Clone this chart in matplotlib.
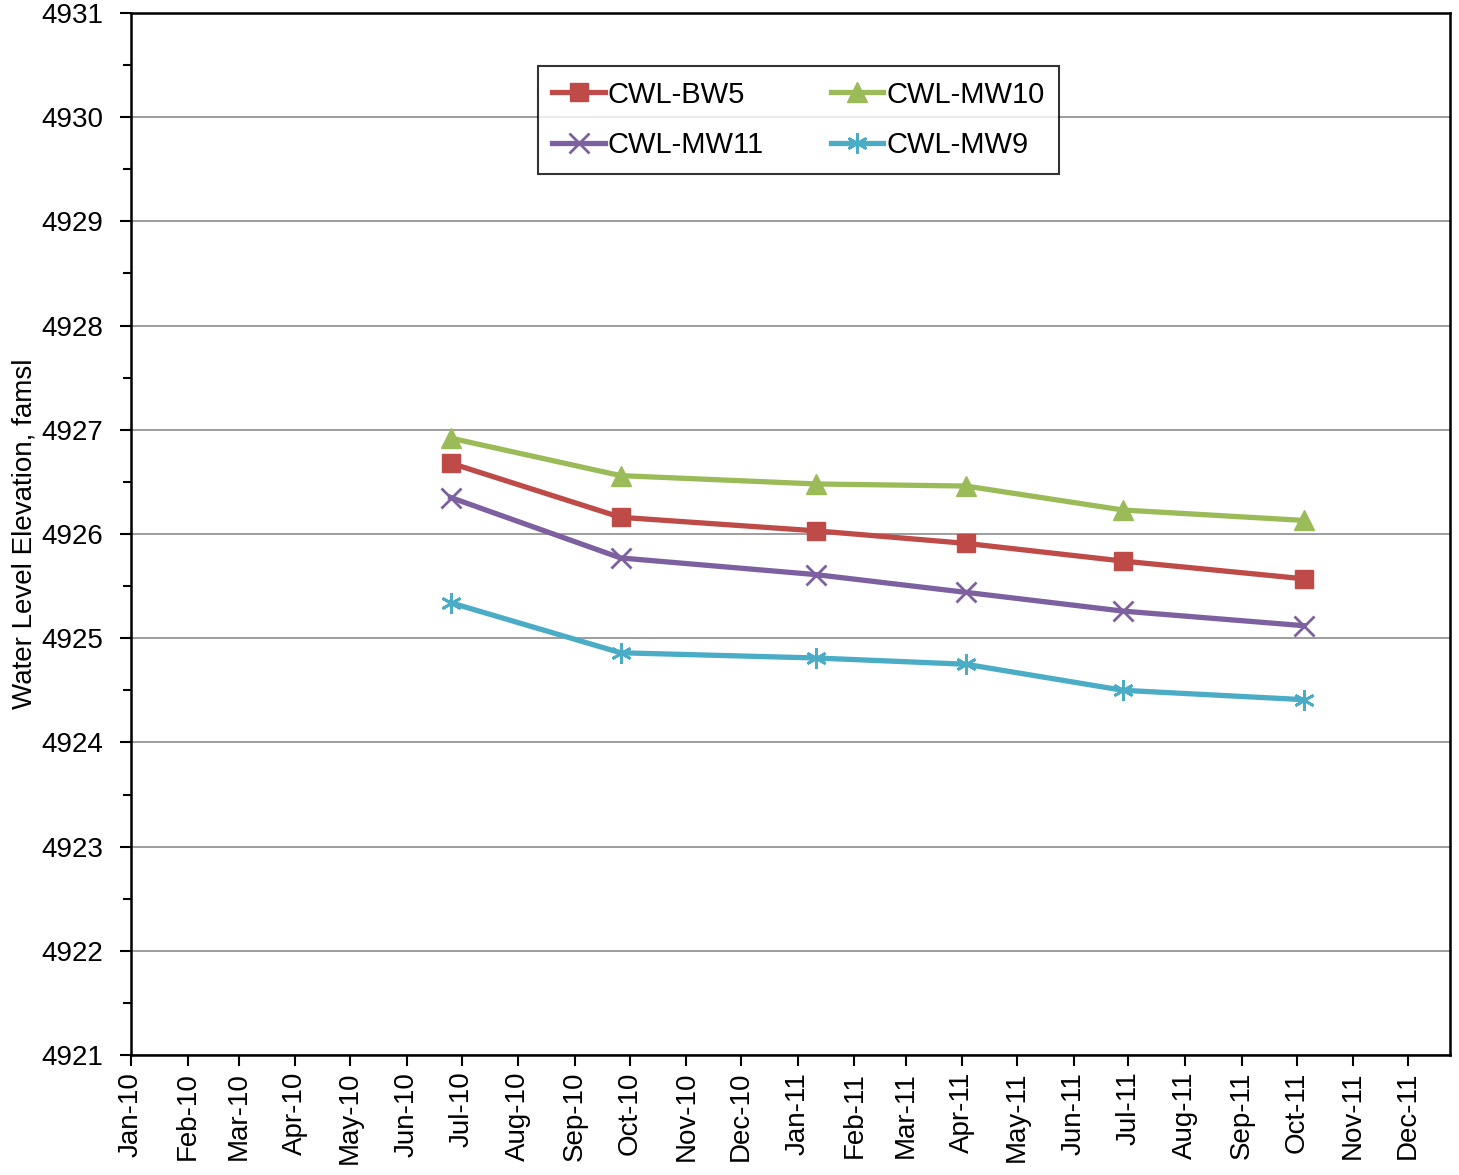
import datetime as dt
import matplotlib
matplotlib.use('Agg')
import matplotlib.pyplot as plt
import matplotlib.dates as mdates
from matplotlib.ticker import MultipleLocator

plt.rcParams['font.family'] = ['Liberation Sans', 'DejaVu Sans']

dates = [dt.date(2010, 6, 25), dt.date(2010, 9, 26), dt.date(2011, 1, 11),
         dt.date(2011, 4, 3), dt.date(2011, 6, 28), dt.date(2011, 10, 5)]
bw5 = [4926.68, 4926.16, 4926.03, 4925.91, 4925.74, 4925.57]
mw10 = [4926.92, 4926.56, 4926.48, 4926.46, 4926.23, 4926.13]
mw11 = [4926.35, 4925.77, 4925.61, 4925.44, 4925.26, 4925.12]
mw9 = [4925.34, 4924.86, 4924.81, 4924.75, 4924.50, 4924.41]

fig = plt.figure(figsize=(14.59, 11.75), dpi=100)
ax = fig.add_axes([0.0898, 0.1021, 0.904, 0.8869])

lw = 3.8
h1, = ax.plot(dates, bw5, color='#BE4B48', marker='s', markersize=13, linewidth=lw, label='CWL-BW5')
h2, = ax.plot(dates, mw10, color='#9BBB59', marker='^', markersize=14, linewidth=lw, label='CWL-MW10')
h3, = ax.plot(dates, mw11, color='#7D60A0', marker='x', markersize=14, markeredgewidth=2, linewidth=lw, label='CWL-MW11')
h4, = ax.plot(dates, mw9, color='#4BACC6', marker=(6, 2, 0), markersize=15, markeredgewidth=2, linewidth=lw, label='CWL-MW9')

ax.set_ylim(4921, 4931)
ax.yaxis.set_major_locator(MultipleLocator(1))
ax.yaxis.set_minor_locator(MultipleLocator(0.5))
ax.yaxis.grid(True, which='major', color='#8C8C8C', linewidth=1.2)
ax.set_axisbelow(True)

ax.set_xlim(dt.date(2010, 1, 1), dt.date(2011, 12, 24))
ax.xaxis.set_major_locator(mdates.MonthLocator())
ax.xaxis.set_major_formatter(mdates.DateFormatter('%b-%y'))
plt.setp(ax.get_xticklabels(), rotation=90)

ax.tick_params(axis='both', which='major', direction='out', length=8, width=1.5, labelsize=20)
ax.tick_params(axis='x', which='major', pad=4)
ax.tick_params(axis='y', which='major', pad=12)
ax.tick_params(axis='y', which='minor', direction='out', length=6, width=1.5)
for s in ax.spines.values():
    s.set_linewidth(1.8)

ax.set_ylabel('Water Level Elevation, famsl', fontsize=20, labelpad=3)

# ncol fills column-wise, so order handles to read row-wise like the original
leg = ax.legend([h1, h3, h2, h4], ['CWL-BW5', 'CWL-MW11', 'CWL-MW10', 'CWL-MW9'],
                ncol=2, loc='upper center', bbox_to_anchor=(0.506, 0.949), borderaxespad=0,
                fontsize=21, frameon=True, fancybox=False, edgecolor='black',
                handlelength=1.8, handletextpad=0.1, columnspacing=2.3,
                borderpad=0.5, labelspacing=0.78)
leg.get_frame().set_linewidth(1.5)

fig.savefig('out.png', dpi=100)
